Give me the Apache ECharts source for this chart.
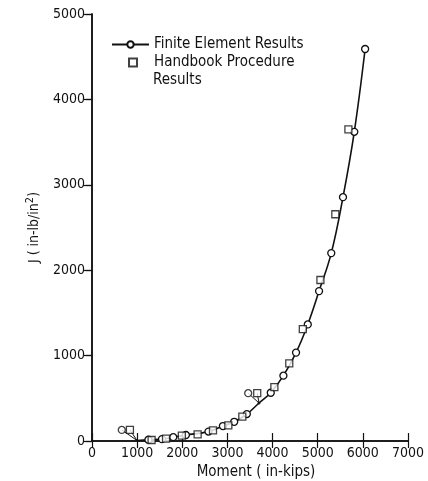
<!DOCTYPE html>
<html>
<head>
<meta charset="utf-8">
<title>J vs Moment</title>
<script src="https://cdn.jsdelivr.net/npm/echarts@6/dist/echarts.min.js"></script>
<style>
  html, body { margin: 0; padding: 0; background: #fff; }
  #main { width: 428px; height: 481px; }
</style>
</head>
<body>
<div id="main"></div>
<script>
// finite element results (moment in-kips, J in-lb/in^2), curve goes through these
var feMoment = [1000, 1250, 1550, 1800, 2080, 2580, 2900, 3150, 3430, 3700, 3960, 4240, 4520, 4780, 5030, 5300, 5560, 5810, 6050];
var feJ      = [5,    15,   22,   45,   70,   110,  175,  225,  315,  445,  565,  765,  1035, 1365, 1755, 2200, 2855, 3620, 4590];
// points whose marker is drawn offset (with a leader line)
var feHidden = [1000, 3700];

// handbook procedure results
var hbMoment = [1320, 1640, 1990, 2340, 2680, 3020, 3330, 4040, 4370, 4670, 5060, 5390, 5680];
var hbJ      = [12,   27,   62,   78,   125,  184,  285,  630,  910,  1310, 1885, 2655, 3650];

// offset markers and the point their leader lines go to
var offCircle = [[660, 130], [3460, 560]];
var offSquare = [[840, 130], [3660, 560]];
var leaderTo  = [[1000, 5], [3700, 445]];

var xTicks = [0, 7000, 1000];
var yTicks = [0, 5000, 1000];

var font = '"DejaVu Sans Condensed", "DejaVu Sans", sans-serif';

var feData = feMoment.map(function (m, i) {
  var d = { value: [m, feJ[i]] };
  if (feHidden.indexOf(m) >= 0) d.symbol = 'none';
  return d;
});
var hbData = hbMoment.map(function (m, i) { return [m, hbJ[i]]; });

var markStyle = { color: '#fff', borderColor: '#111', borderWidth: 1.3 };

var series = [
  {
    name: 'Finite Element Results',
    type: 'line',
    data: feData,
    smooth: 0.4,
    symbol: 'circle',
    symbolSize: 7,
    showAllSymbol: true,
    lineStyle: { color: '#111', width: 1.6 },
    itemStyle: markStyle,
    z: 3
  },
  {
    name: 'Handbook Procedure',
    type: 'scatter',
    data: hbData,
    symbol: 'rect',
    symbolSize: 7,
    itemStyle: markStyle,
    z: 4
  }
];

// leader lines
for (var i = 0; i < leaderTo.length; i++) {
  [offCircle[i], offSquare[i]].forEach(function (p) {
    series.push({
      type: 'line',
      data: [p, leaderTo[i]],
      symbol: 'none',
      silent: true,
      lineStyle: { color: '#111', width: 1 },
      z: 2
    });
  });
}
series.push({
  type: 'scatter', data: offCircle, symbol: 'circle', symbolSize: 7,
  itemStyle: markStyle, silent: true, z: 4
});
series.push({
  type: 'scatter', data: offSquare, symbol: 'rect', symbolSize: 7,
  itemStyle: markStyle, silent: true, z: 4
});
series.push({
  type: 'scatter', data: [leaderTo[1]], symbol: 'circle', symbolSize: 3,
  itemStyle: { color: '#111' }, silent: true, z: 4
});

var axisLine = { show: true, lineStyle: { color: '#111', width: 1.5 } };
var plain = function (v) { return String(v); };
var legendText = { fontFamily: font, fontSize: 15, color: '#111' };

var option = {
  backgroundColor: '#fff',
  animation: false,
  grid: { left: 92, right: 20, top: 14, bottom: 40, outerBoundsMode: 'none', containLabel: false },
  legend: [
    {
      orient: 'vertical',
      left: 111,
      top: 37,
      padding: 0,
      itemWidth: 37,
      itemHeight: 8,
      data: ['Finite Element Results'],
      textStyle: legendText,
      selectedMode: false
    },
    {
      orient: 'vertical',
      left: 128,
      top: 55,
      padding: 0,
      itemWidth: 8,
      itemHeight: 8,
      data: [{ name: 'Handbook Procedure', icon: 'rect' }],
      textStyle: { fontFamily: font, fontSize: 15, color: '#111', padding: [0, 0, 0, 12] },
      selectedMode: false
    }
  ],
  graphic: [{
    type: 'text',
    left: 153,
    top: 73,
    style: { text: 'Results', font: '15px ' + font, fill: '#111' }
  }],
  xAxis: [
    {
      type: 'value', min: xTicks[0], max: xTicks[1], interval: xTicks[2],
      name: 'Moment ( in-kips)', nameLocation: 'middle', nameGap: 22,
      nameTextStyle: { fontFamily: font, fontSize: 15, color: '#111', padding: [0, 0, 0, 12] },
      axisLine: axisLine,
      axisTick: { show: true, inside: true, length: 8, lineStyle: { color: '#111', width: 1.2 } },
      axisLabel: { fontFamily: font, fontSize: 14, color: '#111', margin: 5, formatter: plain },
      splitLine: { show: false }
    },
    {
      type: 'value', position: 'top', min: xTicks[0], max: xTicks[1], interval: xTicks[2],
      axisLine: axisLine,
      axisTick: { show: true, inside: true, length: 7, lineStyle: { color: '#111', width: 1.2 } },
      axisLabel: { show: false },
      splitLine: { show: false }
    }
  ],
  yAxis: [
    {
      type: 'value', min: yTicks[0], max: yTicks[1], interval: yTicks[2],
      name: 'J ( in-lb/in{sup|2})', nameLocation: 'middle', nameGap: 48, nameRotate: 90,
      nameTextStyle: {
        fontFamily: font, fontSize: 14, color: '#111',
        rich: { sup: { fontFamily: font, fontSize: 11, color: '#111', verticalAlign: 'bottom', padding: [0, 0, 8, 0] } }
      },
      axisLine: axisLine,
      axisTick: { show: true, inside: false, length: 6, lineStyle: { color: '#111', width: 1.2 } },
      axisLabel: { fontFamily: font, fontSize: 14, color: '#111', margin: 7, formatter: plain },
      splitLine: { show: false }
    },
    {
      type: 'value', position: 'right', min: yTicks[0], max: yTicks[1], interval: yTicks[2],
      axisLine: axisLine,
      axisTick: { show: true, inside: true, length: 9, lineStyle: { color: '#111', width: 1.2 } },
      axisLabel: { show: false },
      splitLine: { show: false }
    }
  ],
  series: series
};

var chart = echarts.init(document.getElementById('main'), null, { renderer: 'canvas' });
chart.setOption(option);
</script>
</body>
</html>
